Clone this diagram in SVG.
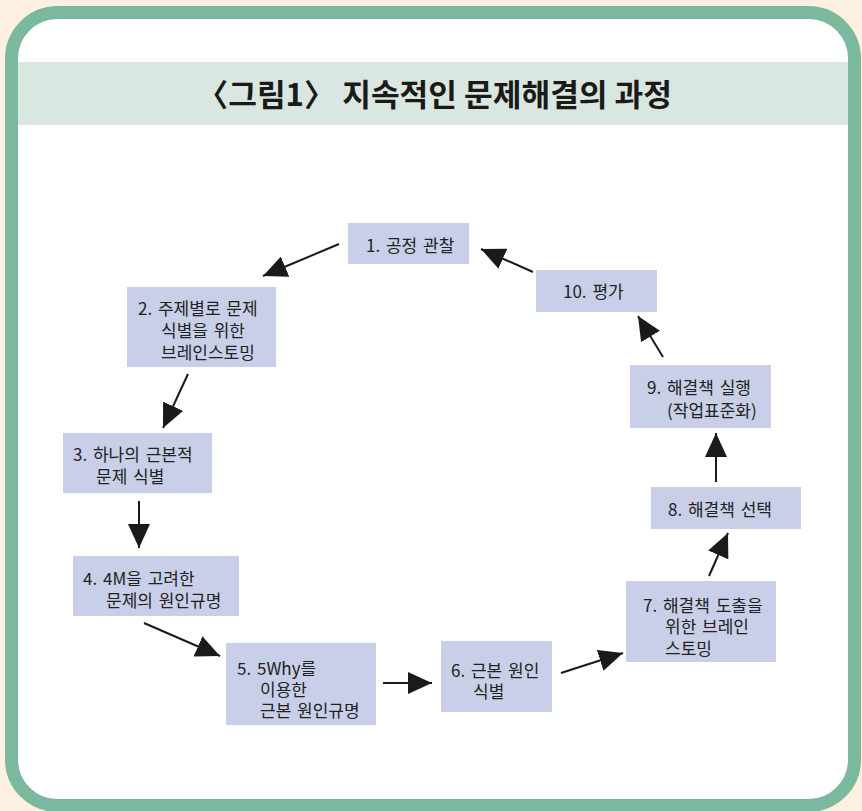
<svg xmlns="http://www.w3.org/2000/svg" width="862" height="811" viewBox="0 0 862 811">
<defs>
<style>
.box{fill:#c9cfe8}
.t{font-family:"Noto Sans CJK KR","Noto Sans",sans-serif;font-size:17px;fill:#222;word-spacing:2px}
.c{stroke:#1a1a1a;stroke-width:2;fill:none}
</style>
<marker id="ah" markerUnits="userSpaceOnUse" markerWidth="24" markerHeight="22" refX="24" refY="11" orient="auto" viewBox="0 0 24 22">
<path d="M0,0 L24,11 L0,22 z" fill="#1a1a1a"/>
</marker>
</defs>
<rect x="0" y="0" width="862" height="811" fill="#fdf0e1"/>
<rect x="11.5" y="12.5" width="843" height="793" rx="46" ry="46" fill="#ffffff" stroke="#7ab99d" stroke-width="13"/>
<rect x="18" y="62" width="830" height="63" fill="#d9e7e0"/>
<text x="197" y="106" textLength="475" lengthAdjust="spacingAndGlyphs" font-family="'Noto Sans CJK KR','Noto Sans',sans-serif" font-size="31" font-weight="bold" fill="#1a1a1a">〈그림1〉 지속적인 문제해결의 과정</text>

<g id="connectors">
<line class="c" x1="339" y1="244" x2="263" y2="276" marker-end="url(#ah)"/>
<line class="c" x1="188" y1="374" x2="163" y2="428" marker-end="url(#ah)"/>
<line class="c" x1="139" y1="501" x2="139" y2="548" marker-end="url(#ah)"/>
<line class="c" x1="144" y1="623" x2="220" y2="656" marker-end="url(#ah)"/>
<line class="c" x1="383" y1="683" x2="432" y2="683" marker-end="url(#ah)"/>
<line class="c" x1="561" y1="673" x2="623" y2="653" marker-end="url(#ah)"/>
<line class="c" x1="709" y1="576" x2="728" y2="533" marker-end="url(#ah)"/>
<line class="c" x1="716" y1="482" x2="716" y2="433" marker-end="url(#ah)"/>
<line class="c" x1="663" y1="357" x2="638" y2="316" marker-end="url(#ah)"/>
<line class="c" x1="533" y1="272" x2="481" y2="249" marker-end="url(#ah)"/>
</g>

<g id="n1"><rect class="box" x="348" y="223" width="121" height="41"/><text class="t" x="366" y="252">1. 공정 관찰</text></g>
<g id="n2"><rect class="box" x="127" y="287" width="149" height="80"/><text class="t" x="138" y="315">2. 주제별로 문제</text><text class="t" x="161" y="337">식별을 위한</text><text class="t" x="161" y="359">브레인스토밍</text></g>
<g id="n3"><rect class="box" x="63" y="433" width="149" height="60"/><text class="t" x="73" y="461">3. 하나의 근본적</text><text class="t" x="96" y="483">문제 식별</text></g>
<g id="n4"><rect class="box" x="73" y="556" width="166" height="60"/><text class="t" x="83" y="585">4. 4M을 고려한</text><text class="t" x="106" y="607">문제의 원인규명</text></g>
<g id="n5"><rect class="box" x="226" y="643" width="150" height="82"/><text class="t" x="237" y="675">5. 5Why를</text><text class="t" x="260" y="696">이용한</text><text class="t" x="260" y="717">근본 원인규명</text></g>
<g id="n6"><rect class="box" x="441" y="641" width="111" height="71"/><text class="t" x="451" y="677">6. 근본 원인</text><text class="t" x="473" y="698">식별</text></g>
<g id="n7"><rect class="box" x="626" y="581" width="150" height="81"/><text class="t" x="643" y="612">7. 해결책 도출을</text><text class="t" x="665" y="633">위한 브레인</text><text class="t" x="665" y="655">스토밍</text></g>
<g id="n8"><rect class="box" x="651" y="487" width="150" height="42"/><text class="t" x="668" y="516">8. 해결책 선택</text></g>
<g id="n9"><rect class="box" x="630" y="365" width="141" height="63"/><text class="t" x="647" y="394">9. 해결책 실행</text><text class="t" x="667" y="417">(작업표준화)</text></g>
<g id="n10"><rect class="box" x="536" y="270" width="121" height="42"/><text class="t" x="563" y="298">10. 평가</text></g>
</svg>
